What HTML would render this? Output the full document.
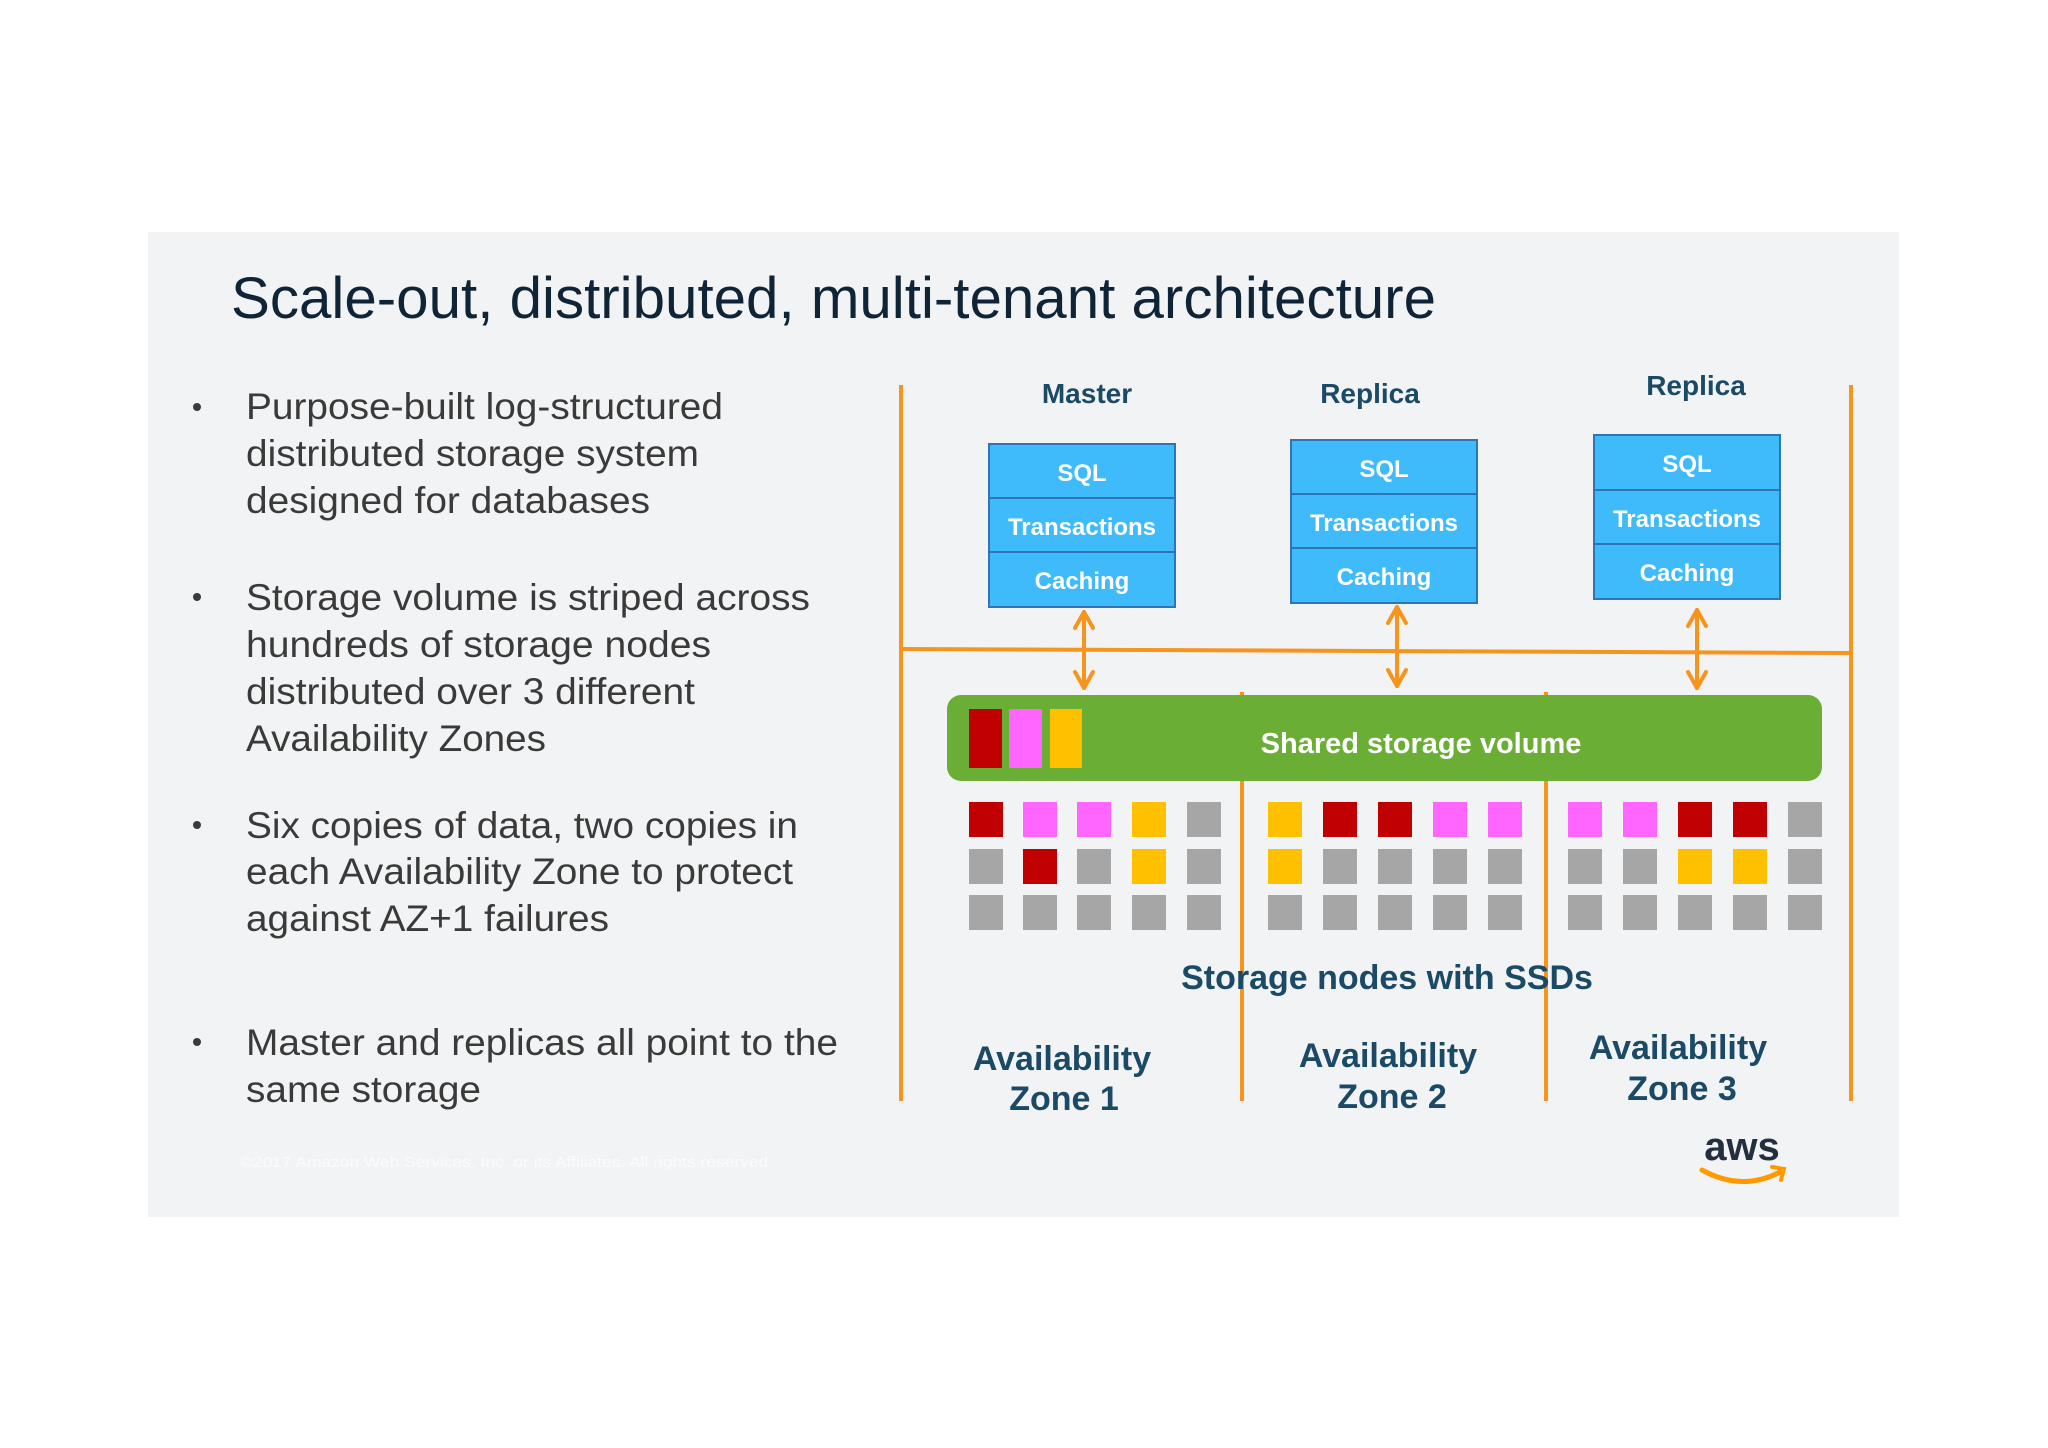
<!DOCTYPE html>
<html><head><meta charset="utf-8"><style>
html,body{margin:0;padding:0;background:#fff;}
svg{display:block;}
</style></head><body>
<svg width="2048" height="1448" viewBox="0 0 2048 1448" xmlns="http://www.w3.org/2000/svg" font-family="Liberation Sans, Arial, sans-serif">
<rect x="0" y="0" width="2048" height="1448" fill="#ffffff"/>
<rect x="148" y="232" width="1751" height="985" fill="#f2f3f4"/>
<text x="231" y="318" font-size="58" fill="#0f2436" textLength="1205" lengthAdjust="spacingAndGlyphs">Scale-out, distributed, multi-tenant architecture</text>
<g font-size="37" fill="#3a3a3a">
<g fill="#3a3a3a"><circle cx="197" cy="407" r="4"/><circle cx="197" cy="597" r="4"/><circle cx="197" cy="825" r="4"/><circle cx="197" cy="1042" r="4"/></g>
<text x="246" y="419" textLength="477" lengthAdjust="spacingAndGlyphs">Purpose-built log-structured</text>
<text x="246" y="466" textLength="453" lengthAdjust="spacingAndGlyphs">distributed storage system</text>
<text x="246" y="513" textLength="404" lengthAdjust="spacingAndGlyphs">designed for databases</text>
<text x="246" y="610" textLength="564" lengthAdjust="spacingAndGlyphs">Storage volume is striped across</text>
<text x="246" y="657" textLength="465" lengthAdjust="spacingAndGlyphs">hundreds of storage nodes</text>
<text x="246" y="704" textLength="449" lengthAdjust="spacingAndGlyphs">distributed over 3 different</text>
<text x="246" y="751" textLength="300" lengthAdjust="spacingAndGlyphs">Availability Zones</text>
<text x="246" y="838" textLength="552" lengthAdjust="spacingAndGlyphs">Six copies of data, two copies in</text>
<text x="246" y="884" textLength="547" lengthAdjust="spacingAndGlyphs">each Availability Zone to protect</text>
<text x="246" y="931" textLength="363" lengthAdjust="spacingAndGlyphs">against AZ+1 failures</text>
<text x="246" y="1055" textLength="592" lengthAdjust="spacingAndGlyphs">Master and replicas all point to the</text>
<text x="246" y="1102" textLength="235" lengthAdjust="spacingAndGlyphs">same storage</text>
</g>
<text x="240" y="1167" font-size="15" fill="#fbfbfb" textLength="533" lengthAdjust="spacingAndGlyphs">©2017 Amazon Web Services, Inc. or its Affiliates. All rights reserved.</text>

<g stroke="#f7941d" stroke-width="4" fill="none">
<line x1="901" y1="385" x2="901" y2="1101"/>
<line x1="1851" y1="385" x2="1851" y2="1101"/>
<line x1="1242" y1="692" x2="1242" y2="1101"/>
<line x1="1546" y1="692" x2="1546" y2="1101"/>
<line x1="901" y1="649" x2="1851" y2="653"/>
</g>

<g font-weight="bold" font-size="28" fill="#1b4a66" text-anchor="middle">
<text x="1087" y="403">Master</text>
<text x="1370" y="403">Replica</text>
<text x="1696" y="395">Replica</text>
</g>

<g stroke="#2e75b6" stroke-width="2" fill="#3fbbfb">
<rect x="989" y="444" width="186" height="163"/>
<line x1="989" y1="498" x2="1175" y2="498"/><line x1="989" y1="552" x2="1175" y2="552"/>
<rect x="1291" y="440" width="186" height="163"/>
<line x1="1291" y1="494" x2="1477" y2="494"/><line x1="1291" y1="548" x2="1477" y2="548"/>
<rect x="1594" y="435" width="186" height="164"/>
<line x1="1594" y1="490" x2="1780" y2="490"/><line x1="1594" y1="544" x2="1780" y2="544"/>
</g>
<g font-weight="bold" font-size="24" fill="#ffffff" text-anchor="middle">
<text x="1082" y="481">SQL</text><text x="1082" y="535">Transactions</text><text x="1082" y="589">Caching</text>
<text x="1384" y="477">SQL</text><text x="1384" y="531">Transactions</text><text x="1384" y="585">Caching</text>
<text x="1687" y="472">SQL</text><text x="1687" y="527">Transactions</text><text x="1687" y="581">Caching</text>
</g>

<g stroke="#f7941d" stroke-width="4" fill="none" stroke-linecap="round" stroke-linejoin="round">
<line x1="1084" y1="612" x2="1084" y2="688"/><polyline points="1075,628 1084,612 1093,628"/><polyline points="1075,672 1084,688 1093,672"/>
<line x1="1397" y1="607" x2="1397" y2="686"/><polyline points="1388,623 1397,607 1406,623"/><polyline points="1388,670 1397,686 1406,670"/>
<line x1="1697" y1="610" x2="1697" y2="688"/><polyline points="1688,626 1697,610 1706,626"/><polyline points="1688,672 1697,688 1706,672"/>
</g>

<rect x="947" y="695" width="875" height="86" rx="14" fill="#6aae35"/>
<rect x="969" y="709" width="33" height="59" fill="#c00000"/>
<rect x="1009" y="709" width="33" height="59" fill="#ff66ff"/>
<rect x="1050" y="709" width="32" height="59" fill="#ffc000"/>
<text x="1421" y="753" font-weight="bold" font-size="29" fill="#ffffff" text-anchor="middle">Shared storage volume</text>

<g>
<!-- zone1 -->
<rect x="969" y="802" width="34" height="35" fill="#c00000"/><rect x="1023" y="802" width="34" height="35" fill="#ff66ff"/><rect x="1077" y="802" width="34" height="35" fill="#ff66ff"/><rect x="1132" y="802" width="34" height="35" fill="#ffc000"/><rect x="1187" y="802" width="34" height="35" fill="#a6a6a6"/>
<rect x="969" y="849" width="34" height="35" fill="#a6a6a6"/><rect x="1023" y="849" width="34" height="35" fill="#c00000"/><rect x="1077" y="849" width="34" height="35" fill="#a6a6a6"/><rect x="1132" y="849" width="34" height="35" fill="#ffc000"/><rect x="1187" y="849" width="34" height="35" fill="#a6a6a6"/>
<rect x="969" y="895" width="34" height="35" fill="#a6a6a6"/><rect x="1023" y="895" width="34" height="35" fill="#a6a6a6"/><rect x="1077" y="895" width="34" height="35" fill="#a6a6a6"/><rect x="1132" y="895" width="34" height="35" fill="#a6a6a6"/><rect x="1187" y="895" width="34" height="35" fill="#a6a6a6"/>
<!-- zone2 -->
<rect x="1268" y="802" width="34" height="35" fill="#ffc000"/><rect x="1323" y="802" width="34" height="35" fill="#c00000"/><rect x="1378" y="802" width="34" height="35" fill="#c00000"/><rect x="1433" y="802" width="34" height="35" fill="#ff66ff"/><rect x="1488" y="802" width="34" height="35" fill="#ff66ff"/>
<rect x="1268" y="849" width="34" height="35" fill="#ffc000"/><rect x="1323" y="849" width="34" height="35" fill="#a6a6a6"/><rect x="1378" y="849" width="34" height="35" fill="#a6a6a6"/><rect x="1433" y="849" width="34" height="35" fill="#a6a6a6"/><rect x="1488" y="849" width="34" height="35" fill="#a6a6a6"/>
<rect x="1268" y="895" width="34" height="35" fill="#a6a6a6"/><rect x="1323" y="895" width="34" height="35" fill="#a6a6a6"/><rect x="1378" y="895" width="34" height="35" fill="#a6a6a6"/><rect x="1433" y="895" width="34" height="35" fill="#a6a6a6"/><rect x="1488" y="895" width="34" height="35" fill="#a6a6a6"/>
<!-- zone3 -->
<rect x="1568" y="802" width="34" height="35" fill="#ff66ff"/><rect x="1623" y="802" width="34" height="35" fill="#ff66ff"/><rect x="1678" y="802" width="34" height="35" fill="#c00000"/><rect x="1733" y="802" width="34" height="35" fill="#c00000"/><rect x="1788" y="802" width="34" height="35" fill="#a6a6a6"/>
<rect x="1568" y="849" width="34" height="35" fill="#a6a6a6"/><rect x="1623" y="849" width="34" height="35" fill="#a6a6a6"/><rect x="1678" y="849" width="34" height="35" fill="#ffc000"/><rect x="1733" y="849" width="34" height="35" fill="#ffc000"/><rect x="1788" y="849" width="34" height="35" fill="#a6a6a6"/>
<rect x="1568" y="895" width="34" height="35" fill="#a6a6a6"/><rect x="1623" y="895" width="34" height="35" fill="#a6a6a6"/><rect x="1678" y="895" width="34" height="35" fill="#a6a6a6"/><rect x="1733" y="895" width="34" height="35" fill="#a6a6a6"/><rect x="1788" y="895" width="34" height="35" fill="#a6a6a6"/>
</g>

<g font-weight="bold" font-size="34" fill="#1b4a66" text-anchor="middle">
<text x="1387" y="989">Storage nodes with SSDs</text>
<text x="1062" y="1070">Availability</text><text x="1064" y="1110">Zone 1</text>
<text x="1388" y="1067">Availability</text><text x="1392" y="1108">Zone 2</text>
<text x="1678" y="1059">Availability</text><text x="1682" y="1100">Zone 3</text>
</g>

<text x="1742" y="1160" font-size="40" fill="#232f3e" text-anchor="middle" font-weight="bold">aws</text>
<path d="M1702 1170 Q1742 1192 1780 1172" stroke="#ff9900" stroke-width="5" fill="none" stroke-linecap="round"/>
<path d="M1772 1167 L1784 1169 L1781 1180" stroke="#ff9900" stroke-width="4" fill="none" stroke-linecap="round"/>
</svg>
</body></html>
